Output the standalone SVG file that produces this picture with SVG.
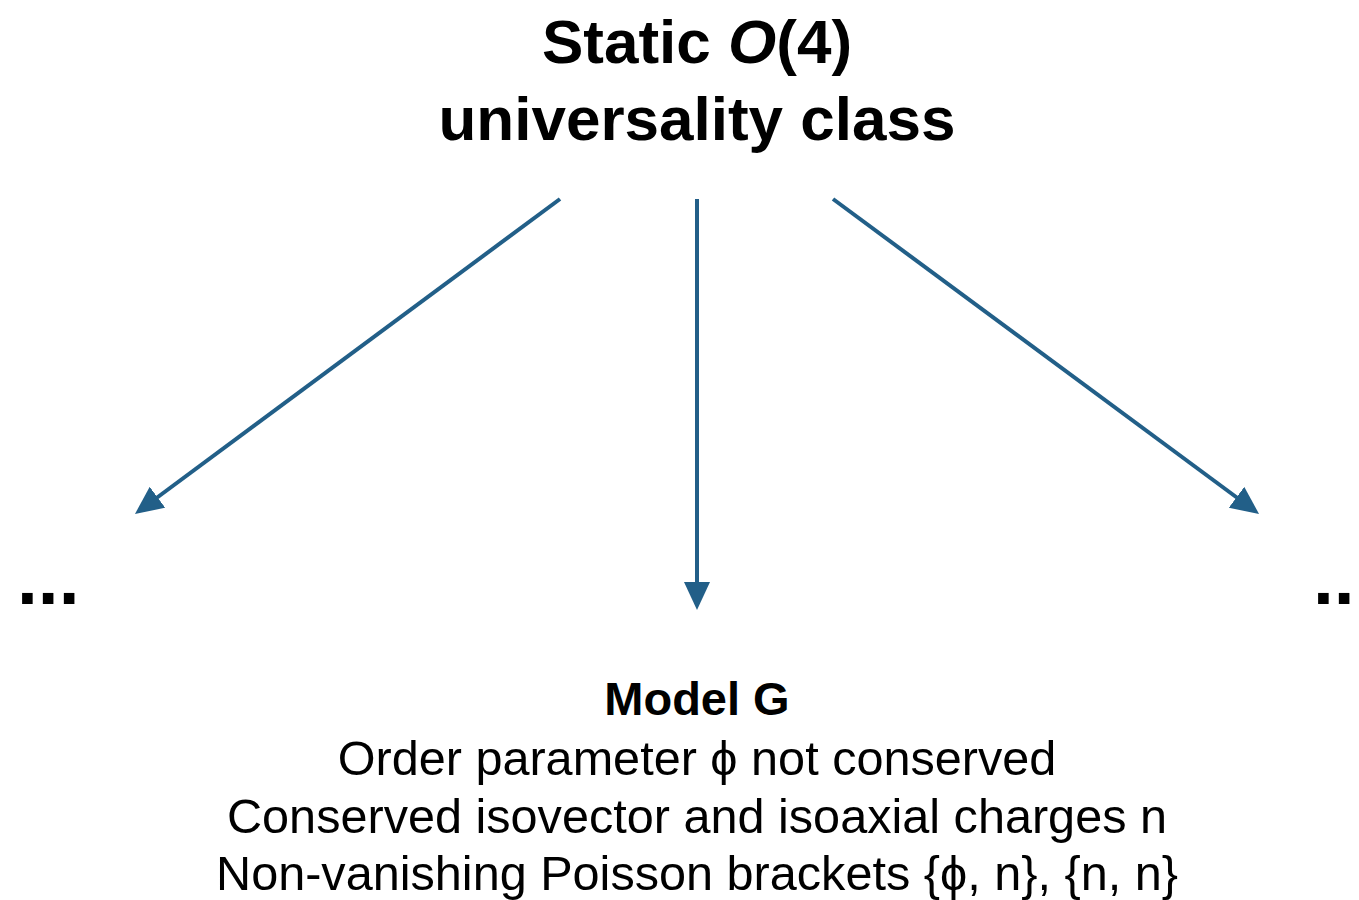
<svg xmlns="http://www.w3.org/2000/svg" width="1359" height="900" viewBox="0 0 1359 900">
  <style>
    .title { font-family: "Liberation Sans", Arial, sans-serif; font-weight: bold; font-size: 62px; fill: #000; text-anchor: middle; }
    .head { font-family: "Liberation Sans", Arial, sans-serif; font-weight: bold; font-size: 47px; fill: #000; text-anchor: middle; }
    .body { font-family: "Liberation Sans", Arial, sans-serif; font-size: 48.6px; fill: #000; text-anchor: middle; }
    .dots { font-family: "Liberation Sans", Arial, sans-serif; font-weight: bold; font-size: 75px; fill: #000; }
    .edge { stroke: #225f88; stroke-width: 4; fill: none; marker-end: url(#arrow); }
  </style>
  <defs>
    <marker id="arrow" markerUnits="userSpaceOnUse" markerWidth="30" markerHeight="28" refX="18" refY="13" orient="auto">
      <path d="M0,0 L28,13 L0,26 z" fill="#225f88"/>
    </marker>
  </defs>

  <rect width="1359" height="900" fill="#fff"/>

  <g id="root">
    <text class="title" x="697" y="63">Static <tspan font-style="italic">O</tspan>(4)</text>
    <text class="title" x="697" y="140">universality class</text>
  </g>

  <g id="connectors">
    <line class="edge" x1="560" y1="199" x2="143" y2="508"/>
    <line class="edge" x1="697" y1="199" x2="697" y2="600"/>
    <line class="edge" x1="833" y1="199" x2="1251" y2="508"/>
  </g>

  <g id="left-more">
    <text class="dots" x="17" y="604">...</text>
  </g>

  <g id="model-g">
    <text class="head" x="697" y="715">Model G</text>
    <text class="body" x="697" y="775">Order parameter ϕ not conserved</text>
    <text class="body" x="697" y="833">Conserved isovector and isoaxial charges n</text>
    <text class="body" x="697" y="890">Non-vanishing Poisson brackets {ϕ, n}, {n, n}</text>
  </g>

  <g id="right-more">
    <text class="dots" x="1313" y="604">...</text>
  </g>
</svg>
